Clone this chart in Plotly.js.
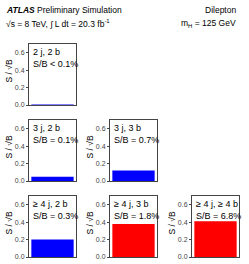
<!DOCTYPE html>
<html>
<head>
<meta charset="utf-8">
<script src="https://cdn.plot.ly/plotly-3.0.1.min.js"></script>
<style>html,body{margin:0;padding:0;background:#fff;}#chart{width:249px;height:264px;}</style>
</head>
<body>
<div id="chart"></div>
<script>
// Data
const categories = ['2 j, 2 b', '3 j, 2 b', '3 j, 3 b', '≥ 4 j, 2 b', '≥ 4 j, 3 b', '≥ 4 j, ≥ 4 b'];
const sOverSqrtB = [0.006, 0.05, 0.12, 0.20, 0.38, 0.41];
const sOverBLabels = ['S/B < 0.1%', 'S/B = 0.1%', 'S/B = 0.7%', 'S/B = 0.3%', 'S/B = 1.8%', 'S/B = 6.8%'];
const yTickVals = [0, 0.2, 0.4, 0.6];
const yTickText = ['0.0', '0.2', '0.4', '0.6'];

// Layout (pixel positions of each panel: [left, top])
const W = 249, H = 264;
const panelW = 47, panelH = 61;
const panelPos = [[29, 44], [29, 120], [110, 120], [29, 196], [110, 196], [192, 196]];
const barColors = ['#0000ff', '#0000ff', '#0000ff', '#0000ff', '#ff0000', '#ff0000'];
const FONT = 'Liberation Sans, Arial, sans-serif';

const data = [];
const layout = {
  width: W, height: H,
  margin: {l: 0, r: 0, t: 0, b: 0},
  paper_bgcolor: '#fff', plot_bgcolor: '#fff',
  showlegend: false,
  font: {family: FONT, size: 8, color: '#000'},
  annotations: []
};

categories.forEach((cat, i) => {
  const n = i + 1;
  const xa = 'x' + (n === 1 ? '' : n), ya = 'y' + (n === 1 ? '' : n);
  const [px, py] = panelPos[i];
  data.push({
    type: 'bar', x: [cat], y: [sOverSqrtB[i]], xaxis: xa, yaxis: ya,
    width: 0.9, marker: {color: barColors[i], line: {width: 0}},
    hoverinfo: 'skip'
  });
  const xk = 'xaxis' + (n === 1 ? '' : n), yk = 'yaxis' + (n === 1 ? '' : n);
  layout[xk] = {
    domain: [px / W, (px + panelW) / W], anchor: ya,
    range: [-0.5, 0.5], showticklabels: false, ticks: '', showgrid: false,
    zeroline: false, showline: true, linecolor: '#444', linewidth: 1, mirror: true,
    fixedrange: true
  };
  layout[yk] = {
    domain: [1 - (py + panelH) / H, 1 - py / H], anchor: xa,
    range: [0, 0.7], tickvals: yTickVals, ticktext: yTickText,
    ticks: 'outside', ticklen: 2, tickcolor: '#444', tickwidth: 1,
    tickfont: {family: FONT, size: 7, color: '#444'},
    showgrid: false, zeroline: false, showline: true, linecolor: '#444',
    linewidth: 1, mirror: true, fixedrange: true
  };
  layout.annotations.push(
    {xref: xa + ' domain', yref: ya + ' domain', x: 0.05, y: 0.99, xanchor: 'left', yanchor: 'top',
     text: cat, showarrow: false, font: {family: FONT, size: 9, color: '#000'}},
    {xref: xa + ' domain', yref: ya + ' domain', x: 0.05, y: 0.79, xanchor: 'left', yanchor: 'top',
     text: sOverBLabels[i], showarrow: false, font: {family: FONT, size: 9, color: '#000'}},
    {xref: 'paper', yref: 'paper', x: (px - 20) / W, y: 1 - (py + panelH * 0.45) / H,
     xanchor: 'center', yanchor: 'middle', textangle: -90,
     text: 'S / √B', showarrow: false, font: {family: FONT, size: 8.5, color: '#000'}}
  );
});

// Header texts
layout.annotations.push(
  {xref: 'paper', yref: 'paper', x: 4 / W, y: 1 - 10 / H, xanchor: 'left', yanchor: 'middle',
   text: '<b><i>ATLAS</i></b> Preliminary Simulation', showarrow: false,
   font: {family: FONT, size: 8.5, color: '#000'}},
  {xref: 'paper', yref: 'paper', x: 238 / W, y: 1 - 10 / H, xanchor: 'right', yanchor: 'middle',
   text: 'Dilepton', showarrow: false, font: {family: FONT, size: 8.5, color: '#000'}},
  {xref: 'paper', yref: 'paper', x: 4 / W, y: 1 - 23 / H, xanchor: 'left', yanchor: 'middle',
   text: '√s = 8 TeV, ∫ L dt = 20.3 fb<sup>-1</sup>', showarrow: false,
   font: {family: FONT, size: 8.5, color: '#000'}},
  {xref: 'paper', yref: 'paper', x: 238 / W, y: 1 - 23 / H, xanchor: 'right', yanchor: 'middle',
   text: 'm<sub>H</sub> = 125 GeV', showarrow: false, font: {family: FONT, size: 8.5, color: '#000'}}
);

Plotly.newPlot('chart', data, layout, {displayModeBar: false, staticPlot: true});
</script>
</body>
</html>
